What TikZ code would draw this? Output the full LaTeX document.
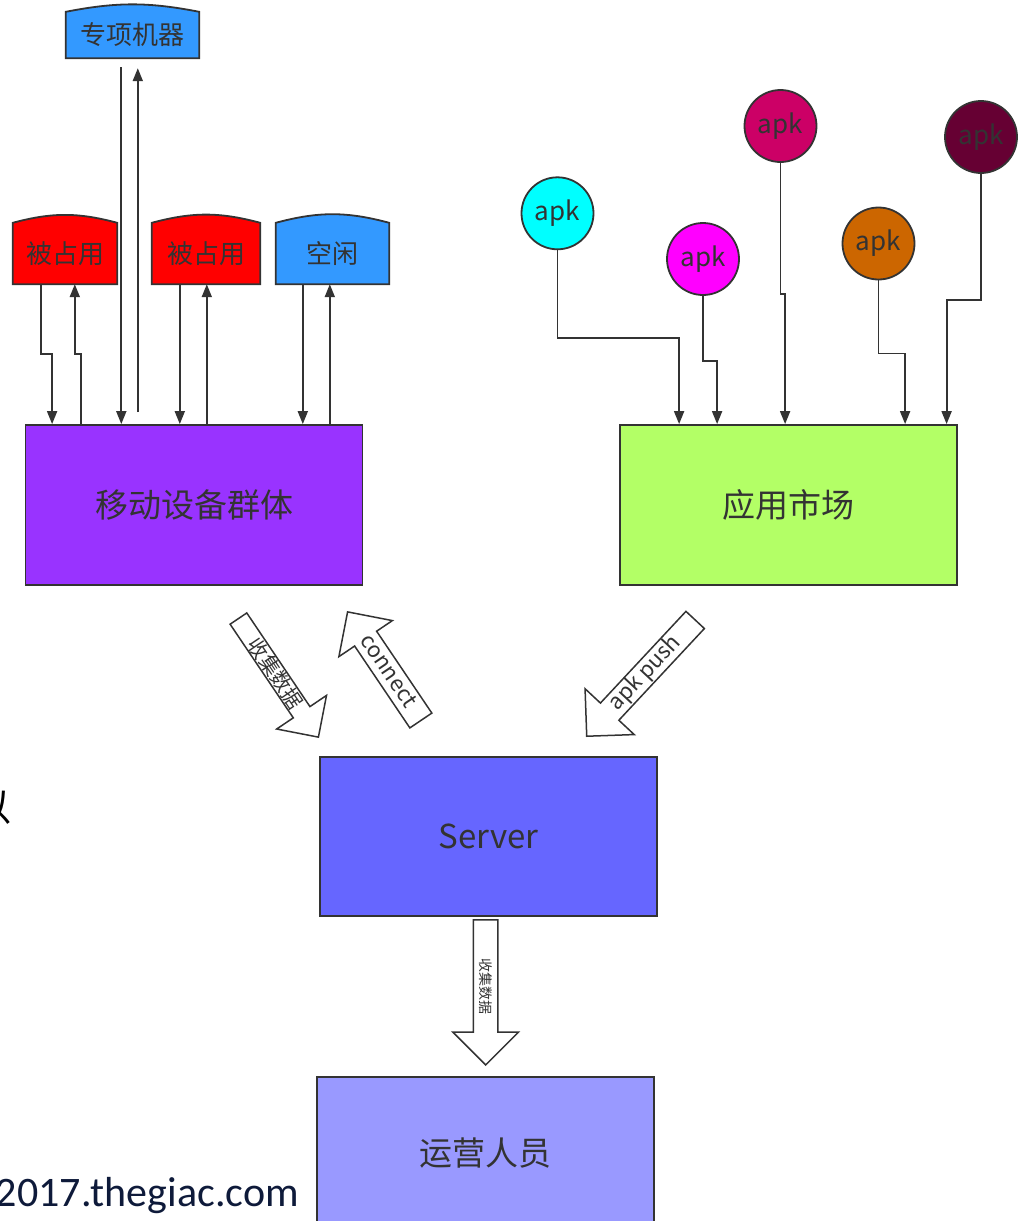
\documentclass[tikz,border=0pt]{standalone}
\usepackage{fontspec}
\setmainfont{Noto Sans CJK SC}
\newfontfamily\webfont{Carlito}
\usepackage{tikz}
\usetikzlibrary{shapes.arrows, arrows.meta, backgrounds}
\definecolor{inkgray}{RGB}{51, 51, 51}
\definecolor{busyred}{RGB}{255, 0, 0}
\definecolor{idleblue}{RGB}{51, 153, 255}
\definecolor{devicepurple}{RGB}{153, 51, 255}
\definecolor{marketgreen}{RGB}{179, 255, 102}
\definecolor{serverblue}{RGB}{102, 102, 255}
\definecolor{opsblue}{RGB}{153, 153, 255}
\definecolor{apkcyan}{RGB}{0, 255, 255}
\definecolor{apkmagenta}{RGB}{255, 0, 255}
\definecolor{apkcrimson}{RGB}{204, 0, 102}
\definecolor{apkorange}{RGB}{204, 102, 0}
\definecolor{apkmaroon}{RGB}{102, 0, 51}
\definecolor{sitenavy}{RGB}{14, 26, 58}
\tikzset{
    main box/.style={
        rectangle,
        draw=inkgray,
        line width=1.8pt,
        minimum width=337pt,
        minimum height=160pt,
        text=inkgray,
        font=\fontsize{33}{38}\selectfont
    },
    phone slot/.style={
        rectangle,
        inner sep=0pt,
        text=inkgray,
        font=\fontsize{26}{30}\selectfont
    },
    slot shell/.style={
        draw=inkgray,
        line width=1.8pt
    },
    apk/.style={
        circle,
        draw=inkgray,
        line width=1.8pt,
        minimum size=72pt,
        inner sep=0pt,
        text=inkgray,
        font=\fontsize{26}{30}\selectfont
    },
    link/.style={
        -{Triangle[length=13pt, width=10pt]},
        draw=inkgray,
        line width=1.8pt
    },
    fat arrow/.style={
        single arrow,
        draw=inkgray,
        line width=1.5pt,
        fill=white,
        inner xsep=2pt,
        inner ysep=0pt,
        text=inkgray
    }
}

\begin{document}
\begin{tikzpicture}[x=1pt, y=-1pt]

\useasboundingbox (0, 0) rectangle (1027, 1221);

% === PHONE SLOTS ===
\node[phone slot, minimum width=133pt, minimum height=46pt] (special) at (132.5, 35) {专项机器};
\node[phone slot, minimum width=104pt, minimum height=61pt] (busy1) at (65, 253.5) {被占用};
\node[phone slot, minimum width=108pt, minimum height=61pt] (busy2) at (206, 253.5) {被占用};
\node[phone slot, minimum width=113pt, minimum height=61pt] (idle) at (332.5, 253.5) {空闲};

\begin{scope}[on background layer]
    \fill[white] (0, 0) rectangle (1027, 1221);
    \draw[slot shell, fill=idleblue] (special.south west) -- (special.north west)
        to[bend left=11] (special.north east) -- (special.south east) -- cycle;
    \draw[slot shell, fill=busyred] (busy1.south west) -- (busy1.north west)
        to[bend left=15] (busy1.north east) -- (busy1.south east) -- cycle;
    \draw[slot shell, fill=busyred] (busy2.south west) -- (busy2.north west)
        to[bend left=15] (busy2.north east) -- (busy2.south east) -- cycle;
    \draw[slot shell, fill=idleblue] (idle.south west) -- (idle.north west)
        to[bend left=15] (idle.north east) -- (idle.south east) -- cycle;
\end{scope}

% === MAIN BOXES ===
\node[main box, fill=devicepurple] (devices) at (194, 505) {移动设备群体};
\node[main box, fill=marketgreen] (market) at (788.5, 505) {应用市场};
\node[main box, fill=serverblue, minimum height=159pt] (server) at (488.5, 836.5) {Server};
\node[main box, fill=opsblue, minimum height=153pt] (ops) at (485.5, 1153.5) {运营人员};

% === APK PACKAGES ===
\node[apk, fill=apkcyan] (apk1) at (557.5, 213.3) {apk};
\node[apk, fill=apkmagenta] (apk2) at (703, 259) {apk};
\node[apk, fill=apkcrimson] (apk3) at (780.5, 126) {apk};
\node[apk, fill=apkorange] (apk4) at (878.5, 243.5) {apk};
\node[apk, fill=apkmaroon] (apk5) at (981, 137) {apk};

% apk -> market
\draw[link] (apk1.south) -- ++(0, 88) -| ([xshift=60pt]market.north west);
\draw[link] (apk2.south) -- ++(0, 65) -| ([xshift=98pt]market.north west);
\draw[link] (apk3.south) -- ++(0, 131) -| ([xshift=166pt]market.north west);
\draw[link] (apk4.south) -- ++(0, 73) -| ([xshift=286pt]market.north west);
\draw[link] (apk5.south) -- ++(0, 126) -| ([xshift=327.5pt]market.north west);

% slots <-> devices
\draw[link] ([xshift=28pt]busy1.south west) -- ++(0, 70) -| ([xshift=27.5pt]devices.north west);
\draw[link] ([xshift=56.5pt]devices.north west) -- ++(0, -70) -| ([xshift=62pt]busy1.south west);
\draw[link] ([xshift=55.5pt, yshift=-9pt]special.south west) -- ([xshift=55.5pt]special.south west |- devices.north);
\draw[link] ([xshift=72pt, yshift=12pt]special.south west |- devices.north) -- ([xshift=72pt, yshift=-10pt]special.south west);
\draw[link] ([xshift=28pt]busy2.south west) -- ([xshift=28pt]busy2.south west |- devices.north);
\draw[link] ([xshift=55pt]busy2.south west |- devices.north) -- ([xshift=55pt]busy2.south west);
\draw[link] ([xshift=27pt]idle.south west) -- ([xshift=27pt]idle.south west |- devices.north);
\draw[link] ([xshift=54pt]idle.south west |- devices.north) -- ([xshift=54pt]idle.south west);

% === BLOCK ARROWS ===
\node[fat arrow, rotate=-56, anchor=tip, minimum height=143pt, single arrow head extend=20pt,
      font=\fontsize{20}{20}\selectfont, text height=17pt, text depth=1.6pt] (collect) at (319, 738) {收集数据};
\node[fat arrow, shape border rotate=180, rotate=-56, anchor=tip, minimum height=131pt, single arrow head extend=19pt,
      font=\fontsize{22}{22}\selectfont, text height=18.5pt, text depth=6.5pt] (connect) at (347, 611) {connect};
\node[fat arrow, shape border rotate=180, rotate=47, anchor=tip, minimum height=159pt, single arrow head extend=21pt,
      font=\fontsize{22}{22}\selectfont, text height=18pt, text depth=5.7pt] (push) at (586, 737) {apk push};
\node[fat arrow, rotate=-90, anchor=tip, minimum height=145pt, single arrow head extend=20.5pt,
      font=\fontsize{14}{14}\selectfont, text height=16.8pt, text depth=6.2pt] (feed) at (485.7, 1066) {收集数据};

% === SLIDE LEFTOVERS ===
\node[font=\fontsize{38}{40}\selectfont, anchor=east, inner sep=0pt] (cutoff) at (12, 808) {以};
\node[font=\webfont\fontsize{42}{44}\selectfont, text=sitenavy, anchor=base east, inner sep=0pt] (site) at (299, 1206) {2017.thegiac.com};

\end{tikzpicture}
\end{document}
